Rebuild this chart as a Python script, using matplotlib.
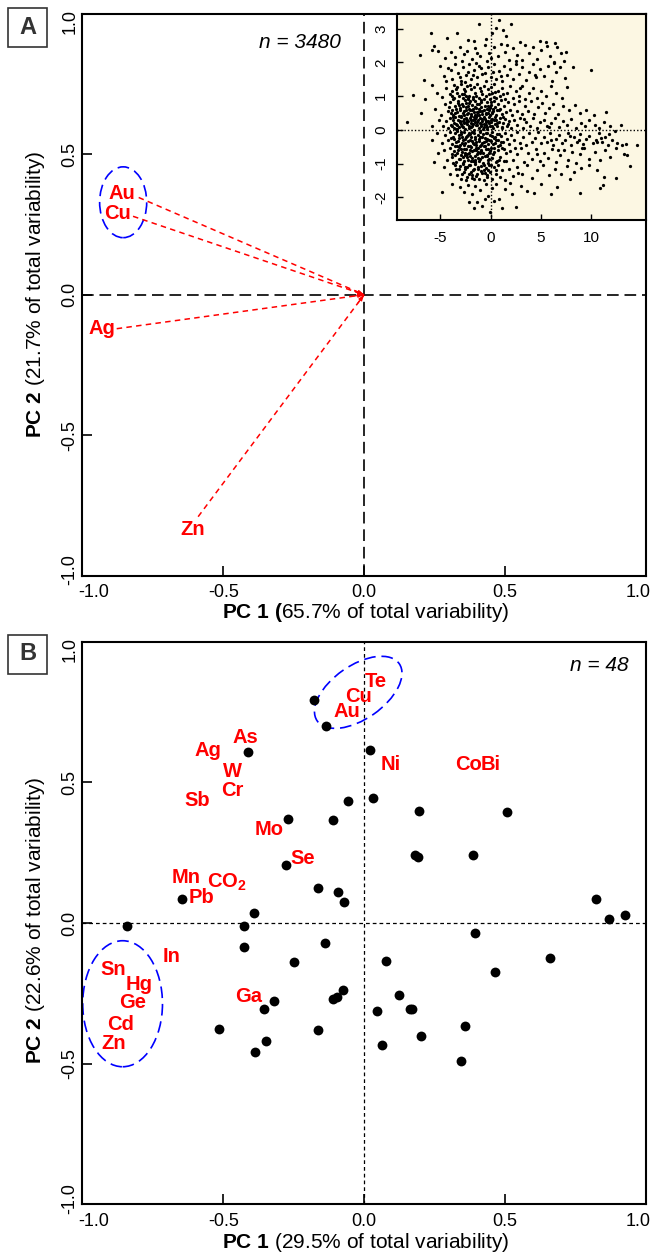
import numpy as np
import matplotlib
matplotlib.use('Agg')
import matplotlib.pyplot as plt
from matplotlib.patches import Ellipse, Rectangle
from matplotlib.transforms import ScaledTranslation

plt.rcParams['font.family'] = ['Liberation Sans', 'DejaVu Sans']
plt.rcParams['axes.unicode_minus'] = False
plt.rcParams['mathtext.fontset'] = 'custom'
plt.rcParams['mathtext.rm'] = 'Liberation Sans'
plt.rcParams['mathtext.bf'] = 'Liberation Sans:bold'
plt.rcParams['mathtext.it'] = 'Liberation Sans:italic'

# ---- panel A: loadings (n = 3480) ----
a_elements = ['Au', 'Cu', 'Ag', 'Zn']
a_pc1 = [-0.800, -0.820, -0.878, -0.589]
a_pc2 = [0.346, 0.279, -0.121, -0.790]
a_label_pc1 = [-0.860, -0.876, -0.932, -0.608]
a_label_pc2 = [0.360, 0.288, -0.121, -0.836]
a_var = (65.7, 21.7)

# inset: sample scores on PC1 / PC2
inset_scores = [
    # sparse top
    (-1.1, 3.13), (0.8, 3.25), (2.0, 3.13), (1.2, 2.96), (0.5, 3.02), (-5.9, 2.86), (-4.3, 2.72),
    (-3.3, 2.88), (-2.2, 2.66), (0.1, 2.86), (2.9, 2.6), (1.5, 2.78), (-0.5, 2.68), (4.9, 2.63),
    (6.4, 2.58), (-1.6, 2.62), (5.5, 2.6),
    # 2.0 .. 2.6
    (-7.0, 2.22), (-5.8, 2.37), (-5.6, 2.48), (-5.2, 2.35), (-4.5, 2.12), (-3.9, 2.31), (-3.0, 2.44),
    (-2.6, 2.24), (-2.3, 2.33), (-1.8, 2.09), (-1.5, 2.41), (-1.0, 2.19), (-0.6, 2.52), (-0.2, 2.29),
    (0.3, 2.46), (0.7, 2.18), (1.0, 2.55), (1.4, 2.31), (1.8, 2.08), (2.2, 2.42), (2.6, 2.21),
    (3.1, 2.06), (3.4, 2.5), (3.8, 2.29), (4.2, 2.45), (4.6, 2.11), (5.0, 2.36), (5.6, 2.48),
    (5.9, 2.2), (6.3, 2.02), (6.6, 2.44), (7.0, 2.27), (7.3, 2.05), (-0.4, 2.04), (-2.8, 2.05),
    (-3.5, 2.15), (0.0, 2.12), (1.6, 2.52), (-1.3, 2.27), (2.5, 2.04),
    # 1.4 .. 2.0
    (-6.6, 1.49), (-5.0, 1.9), (-4.6, 1.6), (-4.2, 1.82), (-3.8, 1.52), (-3.5, 1.95), (-3.2, 1.68),
    (-2.9, 1.46), (-2.7, 1.86), (-2.4, 1.61), (-2.1, 1.94), (-1.9, 1.5), (-1.6, 1.76), (-1.3, 1.56),
    (-1.1, 1.9), (-0.8, 1.64), (-0.5, 1.45), (-0.3, 1.85), (0.0, 1.58), (0.3, 1.96), (0.5, 1.5),
    (0.8, 1.74), (1.1, 1.44), (1.3, 1.9), (1.6, 1.62), (1.9, 1.8), (2.2, 1.5), (2.5, 1.95),
    (2.8, 1.66), (3.1, 1.86), (3.5, 1.48), (3.8, 1.72), (4.2, 1.94), (4.5, 1.56), (4.9, 1.8),
    (5.3, 1.6), (5.7, 1.9), (6.1, 1.45), (6.5, 1.72), (6.9, 1.86), (7.4, 1.55), (8.2, 1.86),
    (10.0, 1.76), (-2.5, 1.42), (-1.4, 1.98), (-3.9, 1.78), (-2.2, 1.72), (-0.9, 1.84), (0.2, 1.7),
    (-4.4, 1.45), (-3.0, 1.58), (-1.7, 1.62), (-0.6, 1.68), (1.0, 1.6),
    # 0.9 .. 1.4
    (-7.7, 1.02), (-6.5, 0.9), (-5.8, 1.34), (-5.3, 1.1), (-4.8, 0.96), (-4.4, 1.25), (-4.0, 1.05),
    (-3.7, 0.92), (-3.4, 1.2), (-3.1, 1.0), (-2.9, 1.35), (-2.7, 0.95), (-2.5, 1.15), (-2.3, 1.3),
    (-2.1, 1.0), (-1.9, 1.2), (-1.7, 0.9), (-1.5, 1.1), (-1.3, 1.35), (-1.1, 0.95), (-0.9, 1.15),
    (-0.7, 1.3), (-0.5, 1.0), (-0.3, 1.2), (-0.1, 0.92), (0.1, 1.1), (0.3, 1.35), (0.5, 0.95),
    (0.7, 1.15), (0.9, 1.0), (1.1, 1.25), (1.4, 0.9), (1.6, 1.1), (1.9, 1.3), (2.2, 0.95),
    (2.5, 1.15), (2.8, 1.0), (3.1, 1.3), (3.4, 0.9), (3.8, 1.1), (4.2, 1.25), (4.6, 0.95),
    (5.0, 1.15), (5.5, 1.0), (6.0, 1.3), (6.5, 1.1), (7.1, 0.95), (7.6, 1.28), (-3.3, 1.1),
    (-2.6, 1.05), (-2.0, 1.32), (-1.4, 1.0), (-0.8, 1.05), (-0.2, 1.06), (0.4, 1.12), (-1.0, 1.24),
    (-3.8, 1.16), (-2.2, 0.92), (-3.6, 1.34), (-1.6, 1.26), (0.0, 1.28), (1.2, 1.05),
    # 0.4 .. 0.9
    (-6.9, 0.49), (-5.5, 0.62), (-4.9, 0.45), (-4.5, 0.76), (-4.2, 0.55), (-4.0, 0.82), (-3.8, 0.6),
    (-3.7, 0.44), (-3.5, 0.72), (-3.3, 0.52), (-3.2, 0.86), (-3.0, 0.64), (-2.9, 0.42), (-2.8, 0.78),
    (-2.6, 0.56), (-2.5, 0.88), (-2.4, 0.68), (-2.3, 0.46), (-2.1, 0.8), (-2.0, 0.6), (-1.9, 0.41),
    (-1.8, 0.73), (-1.6, 0.53), (-1.5, 0.85), (-1.4, 0.66), (-1.3, 0.44), (-1.1, 0.77), (-1.0, 0.57),
    (-0.9, 0.87), (-0.8, 0.48), (-0.6, 0.7), (-0.5, 0.5), (-0.4, 0.83), (-0.2, 0.62), (-0.1, 0.43),
    (0.0, 0.75), (0.2, 0.55), (0.3, 0.86), (0.4, 0.67), (0.5, 0.45), (0.7, 0.78), (0.8, 0.58),
    (1.0, 0.88), (1.1, 0.47), (1.3, 0.7), (1.5, 0.52), (1.7, 0.82), (1.9, 0.6), (2.1, 0.44),
    (2.3, 0.76), (2.6, 0.56), (2.8, 0.85), (3.1, 0.48), (3.4, 0.7), (3.7, 0.55), (4.0, 0.84),
    (4.3, 0.46), (4.7, 0.68), (5.1, 0.8), (5.4, 0.5), (5.8, 0.64), (6.2, 0.78), (6.7, 0.48),
    (7.2, 0.7), (7.8, 0.58), (8.4, 0.74), (8.9, 0.5), (9.5, 0.6), (10.2, 0.45), (11.4, 0.52),
    (-3.4, 0.62), (-2.7, 0.5), (-2.2, 0.7), (-1.7, 0.62), (-1.2, 0.52), (-0.7, 0.58), (-0.3, 0.72),
    (0.1, 0.5), (-3.9, 0.5), (-2.45, 0.6), (-1.55, 0.45), (-0.95, 0.68), (0.6, 0.6), (-3.1, 0.75),
    (-2.0, 0.85),
    # 0.0 .. 0.4
    (-8.3, 0.22), (-5.8, 0.1), (-5.1, 0.3), (-4.7, 0.12), (-4.4, 0.25), (-4.2, 0.05), (-4.0, 0.34),
    (-3.9, 0.15), (-3.7, 0.28), (-3.6, 0.04), (-3.5, 0.37), (-3.4, 0.18), (-3.25, 0.3), (-3.1, 0.08),
    (-3.0, 0.22), (-2.9, 0.38), (-2.8, 0.12), (-2.7, 0.27), (-2.55, 0.02), (-2.45, 0.34), (-2.35, 0.16),
    (-2.2, 0.25), (-2.1, 0.06), (-2.0, 0.36), (-1.9, 0.2), (-1.8, 0.1), (-1.7, 0.3), (-1.6, 0.01),
    (-1.5, 0.24), (-1.4, 0.38), (-1.3, 0.13), (-1.2, 0.28), (-1.1, 0.05), (-1.0, 0.35), (-0.9, 0.18),
    (-0.8, 0.26), (-0.7, 0.08), (-0.6, 0.32), (-0.5, 0.15), (-0.4, 0.03), (-0.3, 0.27), (-0.2, 0.37),
    (-0.1, 0.11), (0.05, 0.22), (0.15, 0.33), (0.25, 0.06), (0.4, 0.18), (0.5, 0.3), (0.65, 0.1),
    (0.8, 0.24), (0.95, 0.36), (1.1, 0.04), (1.25, 0.2), (1.4, 0.31), (1.6, 0.12), (1.8, 0.26),
    (2.0, 0.05), (-3.8, 0.1), (-2.6, 0.2), (-1.75, 0.18), (-0.95, 0.1), (-0.45, 0.22), (0.3, 0.28),
    (-3.3, 0.02), (-2.3, 0.3), (-1.35, 0.22), (-0.15, 0.2), (2.3, 0.3), (2.6, 0.14), (2.9, 0.35),
    (3.2, 0.06), (3.5, 0.24), (3.9, 0.12), (4.2, 0.34), (4.6, 0.04), (4.9, 0.22), (5.3, 0.3),
    (5.6, 0.1), (6.0, 0.2), (6.4, 0.36), (6.8, 0.08), (7.2, 0.25), (7.6, 0.15), (8.0, 0.32),
    (8.5, 0.05), (9.0, 0.2), (9.4, 0.1), (9.8, 0.28), (10.3, 0.15), (10.7, 0.05), (11.2, 0.22),
    (11.8, 0.1), (12.9, 0.15), (12.3, -0.02),
    # -0.5 .. 0.0
    (-5.8, -0.3), (-5.3, -0.1), (-4.8, -0.4), (-4.5, -0.15), (-4.2, -0.3), (-4.0, -0.05), (-3.85, -0.42),
    (-3.7, -0.2), (-3.55, -0.1), (-3.4, -0.35), (-3.3, -0.02), (-3.15, -0.25), (-3.0, -0.45), (-2.9, -0.12),
    (-2.75, -0.3), (-2.6, -0.05), (-2.5, -0.4), (-2.4, -0.2), (-2.25, -0.33), (-2.1, -0.08), (-2.0, -0.47),
    (-1.9, -0.22), (-1.75, -0.38), (-1.6, -0.1), (-1.5, -0.28), (-1.4, -0.44), (-1.25, -0.15), (-1.1, -0.32),
    (-1.0, -0.03), (-0.9, -0.46), (-0.8, -0.2), (-0.65, -0.36), (-0.5, -0.1), (-0.4, -0.27), (-0.25, -0.43),
    (-0.1, -0.15), (0.0, -0.33), (0.15, -0.05), (0.3, -0.25), (0.45, -0.4), (0.6, -0.12), (0.75, -0.3),
    (0.9, -0.45), (1.05, -0.18), (1.2, -0.35), (1.4, -0.08), (1.6, -0.28), (1.8, -0.42), (2.0, -0.15),
    (-3.6, -0.28), (-2.85, -0.22), (-2.2, -0.15), (-1.55, -0.2), (-1.05, -0.22), (-0.35, -0.08), (0.2, -0.42),
    (-2.65, -0.45), (-1.85, -0.05), (-0.7, -0.48), (-3.1, -0.15), (-0.2, -0.3),
    (2.3, -0.3), (2.6, -0.05), (2.9, -0.4), (3.2, -0.2), (3.5, -0.45), (3.8, -0.1), (4.1, -0.35),
    (4.4, -0.25), (4.7, -0.05), (5.0, -0.4), (5.3, -0.22), (5.6, -0.35), (5.9, -0.1), (6.2, -0.45),
    (6.5, -0.28), (6.8, -0.15), (7.1, -0.4), (7.4, -0.3), (7.7, -0.08), (8.0, -0.45), (8.3, -0.22),
    (8.6, -0.35), (8.9, -0.12), (9.2, -0.42), (9.5, -0.28), (9.8, -0.18), (10.1, -0.4), (10.4, -0.3),
    (10.7, -0.1), (11.0, -0.35), (11.3, -0.22), (11.6, -0.45), (12.0, -0.3), (12.5, -0.4), (13.0, -0.45),
    (13.4, -0.42), (14.5, -0.44), (6.0, -0.3), (8.8, -0.3), (10.9, -0.25),
    # -1.0 .. -0.5
    (-5.6, -0.96), (-5.2, -0.7), (-4.6, -0.6), (-4.3, -0.9), (-4.0, -0.55), (-3.8, -0.8), (-3.6, -0.62),
    (-3.45, -0.95), (-3.3, -0.7), (-3.15, -0.52), (-3.0, -0.85), (-2.85, -0.65), (-2.7, -0.98), (-2.55, -0.75),
    (-2.4, -0.56), (-2.25, -0.88), (-2.1, -0.68), (-1.95, -0.52), (-1.8, -0.82), (-1.65, -0.6), (-1.5, -0.95),
    (-1.35, -0.72), (-1.2, -0.55), (-1.05, -0.86), (-0.9, -0.64), (-0.75, -0.97), (-0.6, -0.78), (-0.45, -0.58),
    (-0.3, -0.9), (-0.15, -0.7), (0.0, -0.54), (0.15, -0.84), (0.3, -0.66), (0.5, -0.96), (0.7, -0.6),
    (0.9, -0.8), (1.1, -0.55), (1.3, -0.92), (1.55, -0.7), (-2.9, -0.75), (-2.0, -0.78), (-1.4, -0.6),
    (-0.8, -0.8), (-2.6, -0.58), (-1.7, -0.92), (-0.4, -0.75), (-3.5, -0.75), (-1.0, -0.7), (-2.3, -0.72),
    (1.9, -0.62), (2.2, -0.9), (2.6, -0.72), (3.0, -0.55), (3.3, -0.95), (3.7, -0.68), (4.1, -0.85),
    (4.5, -0.58), (4.9, -0.92), (5.3, -0.7), (5.7, -0.82), (6.1, -0.56), (6.5, -0.95), (6.9, -0.75),
    (7.3, -0.6), (7.7, -0.88), (8.1, -0.66), (8.5, -0.98), (8.9, -0.72), (9.3, -0.55), (9.8, -0.85),
    (10.3, -0.65), (10.8, -0.9), (11.3, -0.6), (11.8, -0.8), (13.2, -0.71), (13.5, -0.74), (12.4, -0.55),
    # -1.5 .. -1.0
    (-4.6, -1.1), (-4.0, -1.3), (-3.5, -1.05), (-3.3, -1.35), (-3.1, -1.15), (-2.9, -1.45), (-2.75, -1.02),
    (-2.6, -1.25), (-2.45, -1.48), (-2.3, -1.1), (-2.15, -1.32), (-2.0, -1.05), (-1.85, -1.42), (-1.7, -1.2),
    (-1.55, -1.02), (-1.4, -1.36), (-1.25, -1.15), (-1.1, -1.45), (-0.95, -1.08), (-0.8, -1.28), (-0.65, -1.5),
    (-0.5, -1.12), (-0.35, -1.35), (-0.2, -1.05), (-0.05, -1.25), (0.1, -1.45), (0.3, -1.1), (0.5, -1.3),
    (0.7, -1.05), (0.9, -1.4), (1.15, -1.2), (1.4, -1.48), (-2.5, -1.15), (-1.95, -1.25), (-1.3, -1.3),
    (-0.7, -1.2), (-2.8, -1.3), (-1.6, -1.45), (-0.3, -1.2),
    (1.8, -1.15), (2.2, -1.38), (2.6, -1.1), (3.1, -1.3), (3.6, -1.05), (4.1, -1.42), (4.6, -1.2),
    (5.2, -1.05), (5.8, -1.35), (6.4, -1.15), (7.0, -1.3), (7.6, -1.08), (8.3, -1.25), (9.0, -1.12),
    (9.8, -1.05), (10.5, -1.2), (11.2, -1.4), (12.4, -1.44), (13.8, -1.06), (7.9, -1.45),
    # below -1.5
    (-4.85, -1.83), (-3.8, -1.6), (-3.0, -1.7), (-2.6, -1.83), (-2.2, -1.62), (-2.1, -2.13), (-1.8, -1.9),
    (-1.5, -1.65), (-1.3, -2.13), (-1.0, -1.78), (-0.8, -2.25), (-0.5, -1.6), (-0.3, -1.95), (-0.07, -2.43),
    (0.1, -1.72), (0.5, -1.6), (0.8, -2.05), (1.15, -2.3), (1.4, -1.75), (1.9, -1.58), (2.48, -2.28),
    (2.1, -1.9), (3.0, -1.65), (3.6, -1.8), (4.3, -1.88), (5.0, -1.6), (5.94, -1.91), (6.6, -1.7),
    (8.9, -1.88), (10.8, -1.73), (11.15, -1.63), (-1.6, -2.3), (0.3, -2.1), (-0.6, -2.05),
    # extra points in the dark core
    (-3.62, 0.93), (-3.17, 0.41), (-2.83, 1.07), (-2.41, 0.23), (-2.07, -0.61), (-1.73, 0.97), (-1.29, -0.83),
    (-0.87, 0.33), (-0.53, -1.27), (-0.19, 0.59), (0.23, -0.71), (0.67, 0.21), (1.03, -0.37), (-3.93, -0.23),
    (-3.41, -1.17), (-2.97, -0.07), (-2.63, -0.93), (-2.19, 0.49), (-1.87, -1.33), (-1.47, 0.13), (-1.03, -0.49),
    (-0.61, 0.91), (-0.27, -0.97), (0.09, 0.29), (0.51, -1.19), (0.89, 0.63), (1.37, -0.57), (-3.77, 0.37),
    (-3.23, -0.59), (-2.71, 0.71), (-2.29, -1.39), (-1.93, 0.07), (-1.57, -0.77), (-1.17, 0.61), (-0.77, -0.13),
    (-0.37, -1.41), (0.03, 0.83), (0.41, -0.21), (0.79, -0.89), (1.21, 0.39), (-3.51, -0.47), (-3.07, 0.27),
    (-2.53, -0.27), (-2.11, -1.03), (-1.69, 0.39), (-1.27, -1.09), (-0.83, -0.39), (-0.43, 0.47), (-0.03, -0.63),
    (0.37, 0.97), (0.71, -0.47), (1.13, 0.09), (-3.87, -0.71), (-3.31, 0.13), (-2.89, -0.57), (-2.47, 1.01),
    (-2.03, -0.29), (-1.61, -1.17), (-1.19, 0.43), (-0.73, -0.69), (-0.33, 0.09), (0.07, -1.03), (0.47, 0.37),
    (0.87, -0.13), (-3.13, -0.87), (-2.67, 0.31), (-2.27, -0.49), (-1.83, 0.59), (-1.43, -0.53), (-0.97, 0.83),
    (-0.57, -0.23), (-0.13, -0.85), (0.27, 0.63), (0.63, -0.93), (-3.47, 0.03), (-2.99, 0.59), (-2.57, -1.09),
    (-2.17, 0.11), (-1.79, -0.63), (-1.37, 0.77), (-0.93, -1.23), (-0.49, 0.27), (-0.07, 0.67), (0.33, -0.53),
    (-3.71, -0.97), (-3.27, 0.79), (-2.79, -0.39), (-2.39, 0.81), (-1.97, -0.91), (-1.53, 0.31), (-1.13, -0.27),
    (-0.69, 0.17), (-0.29, -0.57), (0.13, -0.17), (-2.33, -0.81), (-1.89, 0.29), (-1.49, -0.37), (-1.07, 0.19),
    (-0.63, -1.03), (-0.23, 0.49), (-2.93, 0.17), (-2.51, -0.69), (-2.13, 0.61), (-1.67, -0.43), (-1.23, -0.67),
    (-0.81, 0.57), (-0.41, -0.33), (-3.03, -1.07), (-2.59, 0.43), (-1.99, -0.13), (-1.59, 0.69), (-1.19, -0.93),
    (-0.79, 0.03), (-0.39, 0.63), (-3.57, 0.49), (-3.19, -0.33), (-2.77, 0.09), (-2.37, -0.17), (-1.91, 0.47),
    (-1.51, -0.89), (-1.09, -0.07), (-0.67, 0.39), (-0.31, -0.77), (0.17, 0.11), (0.57, -0.29), (-1.81, -0.33),
    (-1.39, 0.53), (-0.99, -0.59), (-0.59, -0.49), (-2.21, 0.93), (-2.73, -0.79), (-3.37, -0.47),
    (-3.83, 1.01), (-3.29, 1.27), (-2.61, 1.21), (-4.13, 0.67), (-3.59, 0.21), (1.73, 0.17), (2.41, -0.53),
    (3.27, 0.33), (4.63, -0.71), (5.77, 0.07), (6.73, -0.61), (7.83, -0.19), (9.07, -0.53), (10.57, -0.37),
    (11.73, -0.13), (2.87, 1.23), (4.43, 1.61), (6.27, 1.97), (7.51, 2.31), (1.53, -0.93), (2.73, -1.27),
]

# ---- panel B: 48 samples + element loadings ----
b_pc1 = [-0.177, -0.136, -0.411, -0.271, -0.110, -0.279, -0.164, -0.645, -0.391, -0.843,
         -0.426, 0.020, -0.059, 0.032, 0.194, 0.508, 0.180, 0.191, 0.387, -0.092,
         -0.071, 0.822, 0.869, 0.924, 0.395, -0.426, -0.139, -0.249, -0.320, -0.355,
         -0.110, -0.098, -0.074, -0.516, -0.163, -0.350, -0.388, 0.076, 0.658, 0.466,
         0.123, 0.047, 0.162, 0.170, 0.357, 0.201, 0.062, 0.343]
b_pc2 = [0.793, 0.700, 0.609, 0.370, 0.366, 0.207, 0.123, 0.087, 0.034, -0.012,
         -0.012, 0.616, 0.435, 0.445, 0.399, 0.396, 0.243, 0.236, 0.243, 0.109,
         0.073, 0.086, 0.014, 0.027, -0.036, -0.087, -0.071, -0.138, -0.279, -0.304,
         -0.270, -0.264, -0.238, -0.376, -0.380, -0.418, -0.457, -0.134, -0.124, -0.173,
         -0.255, -0.314, -0.306, -0.304, -0.367, -0.400, -0.432, -0.491]
b_elements = ['Te', 'Cu', 'Au', 'Ni', 'Co', 'Bi', 'As', 'Ag', 'W', 'Cr', 'Sb', 'Mo', 'Se',
              'Mn', r'CO$_{\mathbf{2}}$', 'Pb', 'In', 'Sn', 'Hg', 'Ge', 'Cd', 'Zn', 'Ga']
b_load_pc1 = [0.042, -0.020, -0.062, 0.094, 0.371, 0.447, -0.423, -0.553, -0.468, -0.468,
              -0.594, -0.337, -0.218, -0.632, -0.488, -0.577, -0.683, -0.890, -0.799, -0.823,
              -0.866, -0.888, -0.411]
b_load_pc2 = [0.860, 0.805, 0.752, 0.565, 0.563, 0.563, 0.658, 0.613, 0.538, 0.470,
              0.437, 0.331, 0.231, 0.162, 0.144, 0.091, -0.120, -0.164, -0.219, -0.283,
              -0.362, -0.430, -0.261]
b_var = (29.5, 22.6)

W, H = 654, 1253
fig = plt.figure(figsize=(W / 100, H / 100), dpi=100)


def px_axes(left, top, right, bottom):
    return fig.add_axes([left / W, 1 - bottom / H, (right - left) / W, (bottom - top) / H])


def nudge(label, dx, dy):
    # shift a tick label by a few pixels
    label.set_transform(label.get_transform() + ScaledTranslation(dx / 100, dy / 100, fig.dpi_scale_trans))


def style_main(ax):
    ax.set_xlim(-1, 1)
    ax.set_ylim(-1, 1)
    ax.set_xticks([-1, -0.5, 0, 0.5, 1])
    ax.set_yticks([-1, -0.5, 0, 0.5, 1])
    ax.set_xticklabels(['-1.0', '-0.5', '0.0', '0.5', '1.0'])
    ax.set_yticklabels(['-1.0', '-0.5', '0.0', '0.5', '1.0'], rotation=90, va='center')
    ax.tick_params(direction='in', length=7, width=1.2, labelsize=13, colors='black')
    ax.tick_params(axis='x', pad=6)
    ax.tick_params(axis='y', pad=3)
    for s in ax.spines.values():
        s.set_linewidth(1.5)
    xl = ax.get_xticklabels()
    yl = ax.get_yticklabels()
    nudge(xl[0], 11, 0)
    nudge(xl[-1], -8, 0)
    nudge(yl[0], 0, 6)
    nudge(yl[-1], 0, -8)


def panel_tag(letter, cx, cy):
    fig.patches.append(Rectangle(((cx - 19.5) / W, 1 - (cy + 19.5) / H), 39 / W, 39 / H,
                                 transform=fig.transFigure, fill=False, ec='#333333', lw=1.2))
    fig.text(cx / W, 1 - cy / H, letter, ha='center', va='center', fontsize=17,
             fontweight='bold', color='#333333')


# ---------------- panel A ----------------
axA = px_axes(82.3, 13.7, 646, 575.7)
style_main(axA)
axA.axhline(0, color='black', lw=1.2, dashes=(7, 3.5), zorder=1)
axA.axvline(0, color='black', lw=1.2, dashes=(7, 3.5), zorder=1)
for name, x, y, lx, ly in zip(a_elements, a_pc1, a_pc2, a_label_pc1, a_label_pc2):
    axA.plot([x, 0], [y, 0], color='red', lw=1.1, dashes=(3.6, 2.8), zorder=2)
    axA.annotate('', xy=(0, 0), xytext=(0.04 * x, 0.04 * y),
                 arrowprops=dict(arrowstyle='-|>,head_length=0.35,head_width=0.12',
                                 color='red', lw=0.8, shrinkA=0, shrinkB=0))
    axA.text(lx, ly, name, color='red', fontsize=14.5, fontweight='bold',
             ha='center', va='center', zorder=3)
axA.add_patch(Ellipse((-0.855, 0.329), 0.167, 0.252, fill=False, ec='blue',
                      lw=1.2, ls=(0, (7, 3.5))))
axA.text(-0.228, 0.898, 'n = 3480', fontsize=15, style='italic', ha='center', va='center')
fig.text(366 / W, 1 - 613 / H, r'$\mathbf{PC\ 1\ (}$' + f'{a_var[0]}% of total variability)',
         ha='center', va='center', fontsize=15)
fig.text(36 / W, 1 - 294.7 / H, r'$\mathbf{PC\ 2}$' + f' ({a_var[1]}% of total variability)',
         ha='center', va='center', fontsize=15, rotation=90)
panel_tag('A', 27.5, 27.5)

# inset scatter of sample scores
axI = px_axes(396.7, 13.7, 646, 220)
axI.set_facecolor('#fcf7e3')
ins = np.array(inset_scores)
axI.scatter(ins[:, 0], ins[:, 1], s=5.5, c='black', linewidths=0, zorder=2)
axI.axhline(0, color='black', lw=1.0, ls=(0, (1, 1.5)), zorder=1)
axI.axvline(0, color='black', lw=1.0, ls=(0, (1, 1.5)), zorder=1)
axI.set_xlim(-9.3, 15.4)
axI.set_ylim(-2.67, 3.44)
axI.set_xticks([-5, 0, 5, 10])
axI.set_yticks([-2, -1, 0, 1, 2, 3])
axI.set_yticklabels(['-2', '-1', '0', '1', '2', '3'], rotation=90, va='center')
axI.tick_params(direction='in', length=4, width=1.0, labelsize=11)
axI.tick_params(axis='x', pad=8)
axI.tick_params(axis='y', pad=6)
for s in axI.spines.values():
    s.set_linewidth(1.5)

# ---------------- panel B ----------------
axB = px_axes(82.3, 641.7, 646, 1204.3)
style_main(axB)
axB.axhline(0, color='black', lw=0.9, dashes=(3, 2.4), zorder=1)
axB.axvline(0, color='black', lw=0.9, dashes=(3, 2.4), zorder=1)
axB.scatter(b_pc1, b_pc2, s=50, c='black', linewidths=0, zorder=3)
for name, x, y in zip(b_elements, b_load_pc1, b_load_pc2):
    axB.text(x, y, name, color='red', fontsize=14.5, fontweight='bold',
             ha='center', va='center', zorder=4)
axB.add_patch(Ellipse((-0.021, 0.820), 0.355, 0.19, angle=35, fill=False, ec='blue',
                      lw=1.2, ls=(0, (7, 3.5)), zorder=2))
axB.add_patch(Ellipse((-0.857, -0.287), 0.283, 0.448, fill=False, ec='blue',
                      lw=1.2, ls=(0, (7, 3.5)), zorder=2))
axB.text(0.836, 0.915, 'n = 48', fontsize=15, style='italic', ha='center', va='center')
fig.text(366 / W, 1 - 1242.5 / H, r'$\mathbf{PC\ 1}$' + f' ({b_var[0]}% of total variability)',
         ha='center', va='center', fontsize=15)
fig.text(36 / W, 1 - 920 / H, r'$\mathbf{PC\ 2}$' + f' ({b_var[1]}% of total variability)',
         ha='center', va='center', fontsize=15, rotation=90)
panel_tag('B', 27.5, 654)

fig.savefig('out.png', dpi=100)
